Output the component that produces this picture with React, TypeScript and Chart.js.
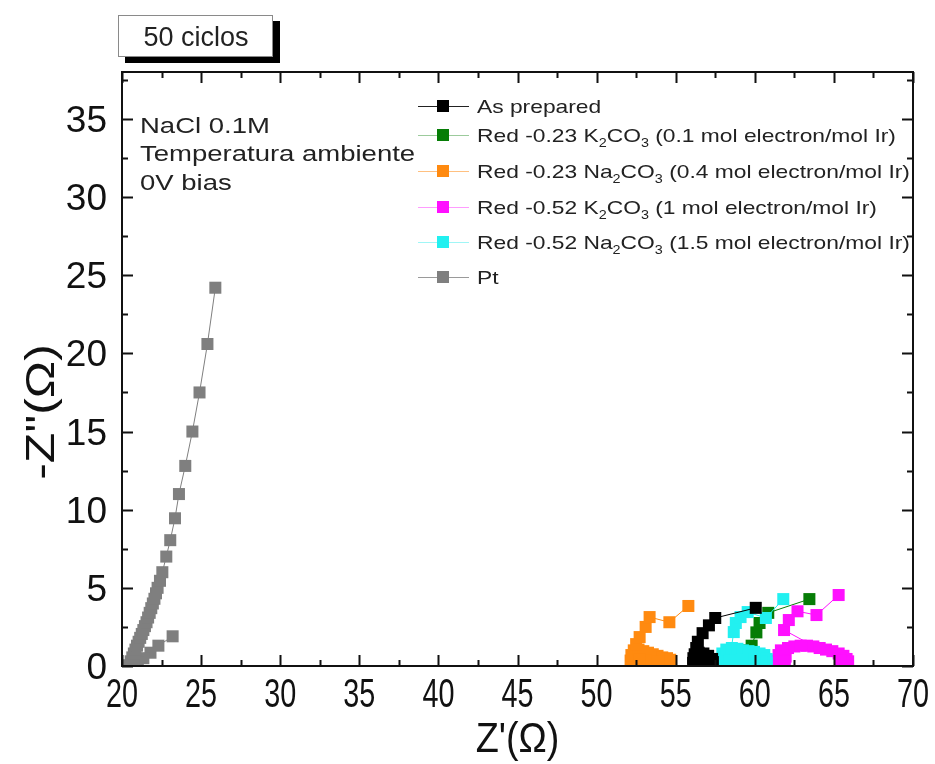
import React, { useEffect, useRef } from "react";
import { Chart, registerables } from "chart.js";

Chart.register(...registerables);

// Axis ticks (major); minor ticks fall halfway between them
const xTicks = [20, 25, 30, 35, 40, 45, 50, 55, 60, 65, 70];
const yTicks = [0, 5, 10, 15, 20, 25, 30, 35];

const seriesLabels = [
  "As prepared",
  "Red -0.23 K_2CO_3 (0.1 mol electron/mol Ir)",
  "Red -0.23 Na_2CO_3 (0.4 mol electron/mol Ir)",
  "Red -0.52 K_2CO_3 (1 mol electron/mol Ir)",
  "Red -0.52 Na_2CO_3 (1.5 mol electron/mol Ir)",
  "Pt",
];
const seriesColors = ["#000000", "#067d06", "#ff8a10", "#ff10ff", "#22f0f0", "#7f7f7f"];
const legendLineColors = ["#222222", "#9ccb9c", "#ffc080", "#ff9cff", "#a0f6f6", "#9a9a9a"];

// Nyquist data, [Z' , -Z''] in ohm
const asPrepared: [number, number][] = [
  [56.1, 0.2], [56.12, 0.5], [56.2, 0.75], [56.45, 0.85], [56.75, 0.8], [57.05, 0.65],
  [57.3, 0.45], [57.35, 0.25], [56.9, 0.3], [56.5, 0.3], [56.3, 1.15], [56.4, 1.55],
  [56.7, 2.1], [57.1, 2.6], [57.5, 3.07], [60.06, 3.72],
];
const redK023: [number, number][] = [
  [58.3, 0.2], [58.35, 0.55], [58.5, 0.85], [58.85, 1.0], [59.2, 1.0], [59.5, 0.95],
  [59.8, 1.3], [60.1, 2.15], [60.3, 2.75], [60.85, 3.4], [63.45, 4.28],
];
const redNa023: [number, number][] = [
  [52.15, 0.35], [52.2, 0.7], [52.35, 1.0], [52.65, 1.05], [52.95, 0.95], [53.25, 0.85],
  [53.55, 0.75], [53.85, 0.65], [54.15, 0.55], [54.45, 0.5], [54.65, 0.4], [54.3, 0.3],
  [53.9, 0.3], [53.5, 0.3], [53.1, 0.35], [52.7, 0.4], [52.5, 1.4], [52.72, 1.85],
  [53.1, 2.5], [53.35, 3.13], [54.6, 2.8], [55.8, 3.84],
];
const redK052: [number, number][] = [
  [61.45, 0.35], [61.5, 0.7], [61.65, 1.0], [61.95, 0.6], [61.9, 0.3], [62.1, 1.15],
  [62.5, 1.25], [62.9, 1.3], [63.3, 1.3], [63.7, 1.25], [64.1, 1.15], [64.5, 1.05],
  [64.9, 0.95], [65.3, 0.8], [65.6, 0.65], [65.8, 0.45], [65.9, 0.3], [65.4, 0.35],
  [61.85, 2.3], [62.15, 2.94], [62.7, 3.5], [63.9, 3.26], [65.3, 4.54],
];
const redNa052: [number, number][] = [
  [57.8, 0.15], [57.85, 0.45], [57.95, 0.8], [58.2, 1.05], [58.55, 1.15], [58.9, 1.1],
  [59.25, 1.0], [59.6, 0.95], [59.95, 0.9], [60.3, 0.8], [60.6, 0.7], [60.75, 0.45],
  [60.75, 0.2], [60.4, 0.3], [60.0, 0.35], [59.6, 0.4], [59.2, 0.4], [58.8, 0.4],
  [58.4, 0.35], [58.67, 2.17], [58.8, 2.75], [59.1, 3.13], [59.55, 3.45], [60.7, 3.07],
  [61.8, 4.28],
];
const platinum: [number, number][] = [
  [23.2, 1.9], [22.3, 1.3], [21.8, 0.85], [21.35, 0.5], [21.0, 0.25], [20.7, 0.1],
  [20.45, 0.05], [20.55, 0.3], [20.65, 0.55], [20.75, 0.8], [20.85, 1.05], [20.95, 1.3],
  [21.05, 1.55], [21.15, 1.8], [21.25, 2.05], [21.35, 2.3], [21.45, 2.55], [21.55, 2.8],
  [21.65, 3.1], [21.75, 3.4], [21.85, 3.7], [21.95, 4.0], [22.05, 4.3], [22.15, 4.65],
  [22.25, 5.0], [22.4, 5.45], [22.55, 6.0], [22.8, 7.0], [23.05, 8.05], [23.35, 9.45],
  [23.6, 11.0], [24.0, 12.8], [24.45, 15.0], [24.9, 17.5], [25.4, 20.6], [25.9, 24.2],
];

const seriesData = [asPrepared, redK023, redNa023, redK052, redNa052, platinum];
// lower value = painted later (on top)
const drawOrder = [0, 3, 4, 2, 1, 5];

const boxLabel = "50 ciclos";
const notes = ["NaCl 0.1M", "Temperatura ambiente", "0V bias"];
const xTitle = "Z'(\u03A9)";
const yTitle = "-Z\"(\u03A9)";

const FONT = '"Liberation Sans", Arial, Helvetica, sans-serif';

function stretchedText(ctx: CanvasRenderingContext2D, text: string, x: number, y: number, sx: number) {
  ctx.save();
  ctx.translate(x, y);
  ctx.scale(sx, 1);
  ctx.fillText(text, 0, 0);
  ctx.restore();
}

// Draws a label where "_d" renders d as a subscript
function subscriptText(ctx: CanvasRenderingContext2D, text: string, x: number, y: number, size: number, sx: number) {
  ctx.save();
  ctx.translate(x, y);
  ctx.scale(sx, 1);
  let cx = 0;
  let i = 0;
  while (i < text.length) {
    if (text[i] === "_" && i + 1 < text.length) {
      ctx.font = `${Math.round(size * 0.62)}px ${FONT}`;
      ctx.fillText(text[i + 1], cx, size * 0.28);
      cx += ctx.measureText(text[i + 1]).width;
      i += 2;
    } else {
      let j = i;
      while (j < text.length && text[j] !== "_") j++;
      const chunk = text.slice(i, j);
      ctx.font = `${size}px ${FONT}`;
      ctx.fillText(chunk, cx, 0);
      cx += ctx.measureText(chunk).width;
      i = j;
    }
  }
  ctx.restore();
}

const decorations = {
  id: "decorations",
  afterDatasetsDraw(chart: any) {
    const { ctx, chartArea: a, scales } = chart;
    const xs = scales.x;
    const ys = scales.y;
    ctx.save();
    ctx.strokeStyle = "#111";
    ctx.lineWidth = 2;
    ctx.strokeRect(a.left, a.top, a.right - a.left, a.bottom - a.top);

    const majorLen = 11;
    const minorLen = 6;
    const xStep = (xTicks[1] - xTicks[0]) / 2;
    const yStep = (yTicks[1] - yTicks[0]) / 2;
    ctx.beginPath();
    xTicks.forEach((v) => {
      const list: [number, number][] = [[v, majorLen]];
      if (v + xStep < xs.max) list.push([v + xStep, minorLen]);
      list.forEach(([t, len]) => {
        const px = Math.round(xs.getPixelForValue(t)) + 0.5;
        ctx.moveTo(px, a.bottom);
        ctx.lineTo(px, a.bottom - len);
        ctx.moveTo(px, a.top);
        ctx.lineTo(px, a.top + len);
      });
    });
    const yAll: [number, number][] = [];
    yTicks.forEach((v) => {
      yAll.push([v, majorLen]);
      if (v + yStep < ys.max) yAll.push([v + yStep, minorLen]);
    });
    yAll.forEach(([t, len]) => {
      const py = Math.round(ys.getPixelForValue(t)) + 0.5;
      ctx.moveTo(a.left, py);
      ctx.lineTo(a.left + len, py);
      ctx.moveTo(a.right, py);
      ctx.lineTo(a.right - len, py);
    });
    ctx.stroke();
    ctx.restore();
  },
  afterDraw(chart: any) {
    const { ctx, chartArea: a, scales } = chart;
    const xs = scales.x;
    const ys = scales.y;
    ctx.save();
    ctx.fillStyle = "#111";

    // tick labels
    ctx.font = `40px ${FONT}`;
    ctx.textAlign = "center";
    ctx.textBaseline = "alphabetic";
    xTicks.forEach((v) => {
      stretchedText(ctx, String(v), xs.getPixelForValue(v), 707, 0.72);
    });
    ctx.font = `37px ${FONT}`;
    ctx.textAlign = "right";
    yTicks.forEach((v) => {
      ctx.fillText(String(v), 107, ys.getPixelForValue(v) + 13);
    });

    // axis titles
    ctx.textAlign = "center";
    ctx.font = `42px ${FONT}`;
    stretchedText(ctx, xTitle, (a.left + a.right) / 2, 752, 0.9);
    ctx.save();
    ctx.translate(54, 412);
    ctx.rotate(-Math.PI / 2);
    ctx.scale(1.25, 1);
    ctx.font = `40px ${FONT}`;
    ctx.fillText(yTitle, 0, 0);
    ctx.restore();

    // boxed caption above the frame
    ctx.fillStyle = "#000";
    ctx.fillRect(125, 21, 155, 42);
    ctx.fillStyle = "#fff";
    ctx.fillRect(118, 15, 155, 42);
    ctx.strokeStyle = "#8a8a8a";
    ctx.lineWidth = 1;
    ctx.strokeRect(118.5, 15.5, 154, 41);
    ctx.fillStyle = "#222";
    ctx.font = `27px ${FONT}`;
    ctx.textAlign = "center";
    ctx.fillText(boxLabel, 196, 46);

    // measurement notes
    ctx.textAlign = "left";
    ctx.font = `22px ${FONT}`;
    ctx.fillStyle = "#222";
    const noteY = [133, 161, 190];
    notes.forEach((t, k) => stretchedText(ctx, t, 140, noteY[k], 1.25));

    // legend
    const rowY = [106, 135, 171, 207, 242, 277];
    seriesLabels.forEach((label, k) => {
      const y = rowY[k];
      ctx.strokeStyle = legendLineColors[k];
      ctx.lineWidth = 1;
      ctx.beginPath();
      ctx.moveTo(418, y + 0.5);
      ctx.lineTo(469, y + 0.5);
      ctx.stroke();
      ctx.fillStyle = seriesColors[k];
      ctx.fillRect(437, y - 6, 12, 12);
      ctx.fillStyle = "#222";
      subscriptText(ctx, label, 477, y + 7, 19, 1.2);
    });
    ctx.restore();
  },
};

export default function App() {
  const ref = useRef<HTMLCanvasElement | null>(null);
  useEffect(() => {
    if (!ref.current) return;
    const datasets = seriesData.map((pts, k) => ({
      label: seriesLabels[k].replace(/_/g, ""),
      data: pts.map(([x, y]) => ({ x, y })),
      showLine: true,
      borderColor: seriesColors[k],
      borderWidth: 1,
      backgroundColor: seriesColors[k],
      pointStyle: "rect" as const,
      pointRadius: 8.5,
      pointBorderWidth: 0,
      pointBackgroundColor: seriesColors[k],
      order: drawOrder[k],
      clip: 0,
    }));
    const chart = new Chart(ref.current, {
      type: "scatter",
      data: { datasets },
      options: {
        animation: false,
        responsive: false,
        layout: { padding: { left: 122, top: 72, right: 22, bottom: 98 } },
        plugins: { legend: { display: false }, tooltip: { enabled: false } },
        scales: {
          x: { type: "linear", min: 20, max: 70, display: false },
          y: { type: "linear", min: 0, max: 38, display: false },
        },
      },
      plugins: [decorations],
    });
    return () => chart.destroy();
  }, []);
  return (
    <div style={{ position: "fixed", left: 0, top: 0, width: 935, height: 764, background: "#fff" }}>
      <canvas ref={ref} width={935} height={764} />
    </div>
  );
}
